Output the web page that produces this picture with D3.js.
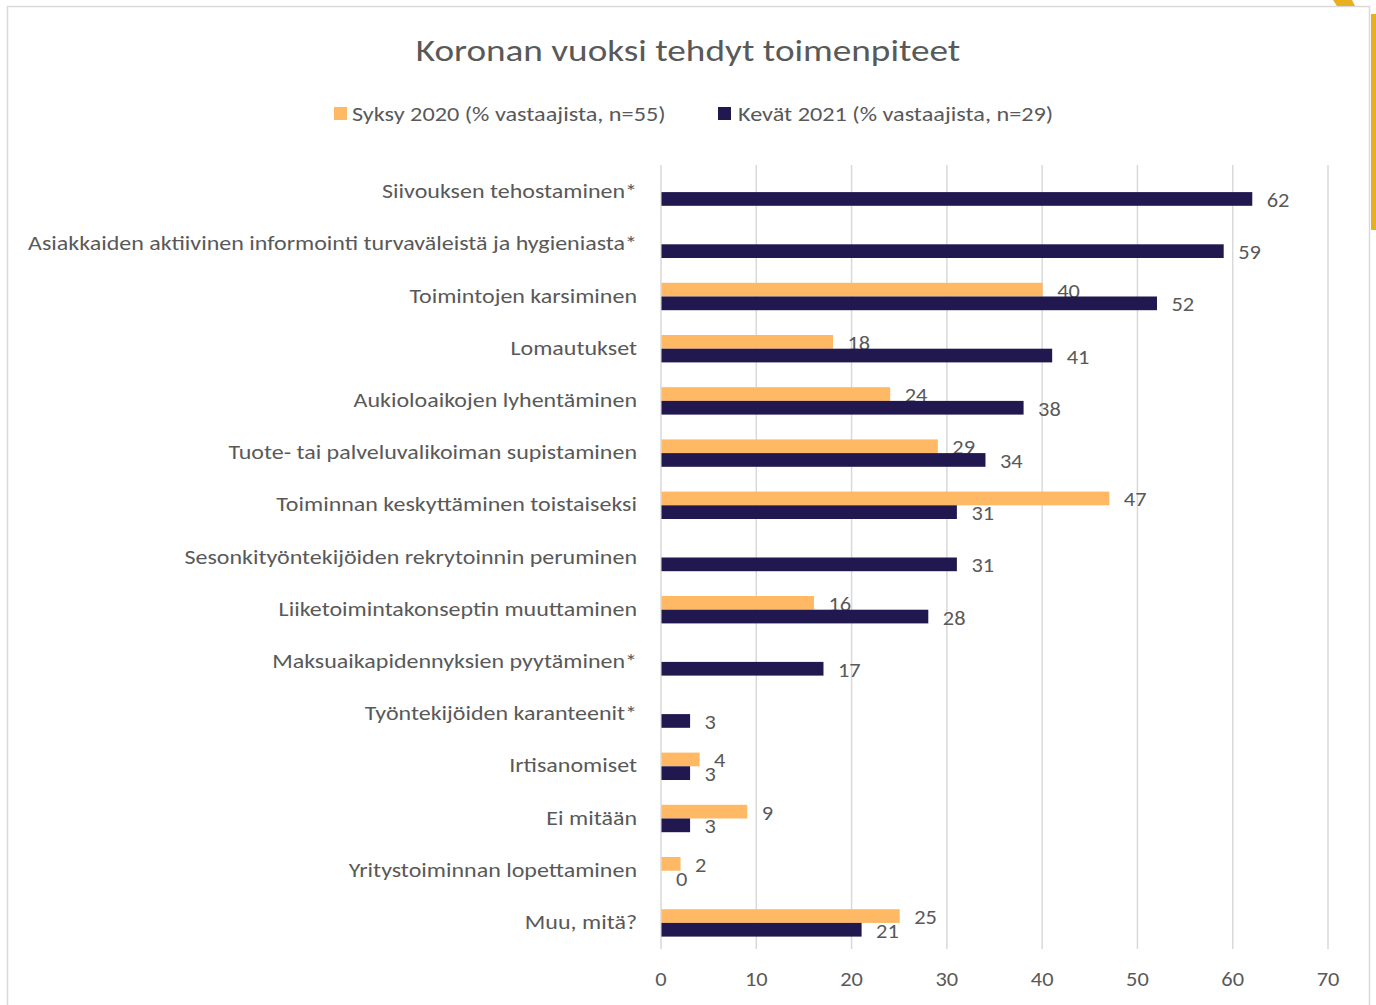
<!DOCTYPE html>
<html><head><meta charset="utf-8">
<script src="https://cdn.jsdelivr.net/npm/d3@7"></script>
<style>
html,body{margin:0;padding:0;background:#fff;}
svg text{font-family:Carlito,Lato,"Open Sans",sans-serif;fill:#595959;}
</style></head>
<body>
<svg id="c" width="1376" height="1005"></svg>
<script>
const categories = [
  "Siivouksen tehostaminen*",
  "Asiakkaiden aktiivinen informointi turvaväleistä ja hygieniasta*",
  "Toimintojen karsiminen",
  "Lomautukset",
  "Aukioloaikojen lyhentäminen",
  "Tuote- tai palveluvalikoiman supistaminen",
  "Toiminnan keskyttäminen toistaiseksi",
  "Sesonkityöntekijöiden rekrytoinnin peruminen",
  "Liiketoimintakonseptin muuttaminen",
  "Maksuaikapidennyksien pyytäminen*",
  "Työntekijöiden karanteenit*",
  "Irtisanomiset",
  "Ei mitään",
  "Yritystoiminnan lopettaminen",
  "Muu, mitä?"
];
const syksy2020 = [null, null, 40, 18, 24, 29, 47, null, 16, null, null, 4, 9, 2, 25];
const kevat2021 = [62, 59, 52, 41, 38, 34, 31, 31, 28, 17, 3, 3, 3, 0, 21];
const seriesNames = ["Syksy 2020 (% vastaajista, n=55)", "Kevät 2021 (% vastaajista, n=29)"];
const xTicks = [0, 10, 20, 30, 40, 50, 60, 70];
const title = "Koronan vuoksi tehdyt toimenpiteet";

const colors = ["#FFB864", "#21184F"];
const svg = d3.select("#c");

// helper: text with horizontal stretch (approximates the wider original face)
function addText(parent, x, y, str, size, anchor, sx) {
  return parent.append("text")
    .attr("transform", `translate(${x},${y}) scale(${sx},1)`)
    .attr("text-anchor", anchor || "start")
    .style("font-size", size + "px")
    .text(str);
}

// frame
svg.append("rect").attr("x", 7.5).attr("y", 6.5).attr("width", 1362).attr("height", 1010)
  .attr("fill", "none").attr("stroke", "#d9d9d9").attr("stroke-width", 1.5);
// decorative yellow shapes at right edge
svg.append("rect").attr("x", 1371).attr("y", 14).attr("width", 6).attr("height", 216).attr("fill", "#E8B021");
svg.append("path").attr("d", "M1333,0 L1352,0 L1355,6 L1337,6 Z").attr("fill", "#E8B021");

const x = d3.scaleLinear().domain([0, 70]).range([661, 1328]);
const y = d3.scaleBand().domain(categories).range([166, 949]).paddingInner(0).paddingOuter(0);
const barH = 13.7;

// gridlines
svg.append("g").selectAll("line").data(xTicks).join("line")
  .attr("x1", d => x(d)).attr("x2", d => x(d))
  .attr("y1", 165).attr("y2", 949)
  .attr("stroke", "#d9d9d9").attr("stroke-width", 1.5);

// title
addText(svg, 688, 61, title, 31, "middle", 1.2);

// legend
const legendItems = [{x: 334, tx: 352}, {x: 718, tx: 738}];
legendItems.forEach((l, i) => {
  svg.append("rect").attr("x", l.x).attr("y", 107).attr("width", 13).attr("height", 13).attr("fill", colors[i]);
  addText(svg, l.tx, 121, seriesNames[i], 21, "start", 1.155);
});

// category labels
const gl = svg.append("g");
categories.forEach(c => {
  addText(gl, 637, y(c) + y.bandwidth() / 2 + 6, c, 20, "end", 1.2);
});

const series = [syksy2020, kevat2021];
series.forEach((vals, si) => {
  const data = categories.map((c, i) => ({c, v: vals[i]})).filter(d => d.v !== null);
  const yOff = si === 0 ? -barH : 0;
  const g = svg.append("g");
  g.selectAll("rect").data(data).join("rect")
    .attr("x", x(0) + 0.5).attr("y", d => y(d.c) + y.bandwidth() / 2 + yOff)
    .attr("width", d => Math.max(0, x(d.v) - x(0))).attr("height", barH)
    .attr("fill", colors[si]);
  data.forEach(d => {
    addText(g, x(d.v) + 15, y(d.c) + y.bandwidth() / 2 + yOff + barH / 2 + 8, d.v, 20, "start", 1.12);
  });
});

// x axis labels
const ga = svg.append("g");
xTicks.forEach(t => addText(ga, x(t), 986, t, 20, "middle", 1.12));
</script>
</body></html>
